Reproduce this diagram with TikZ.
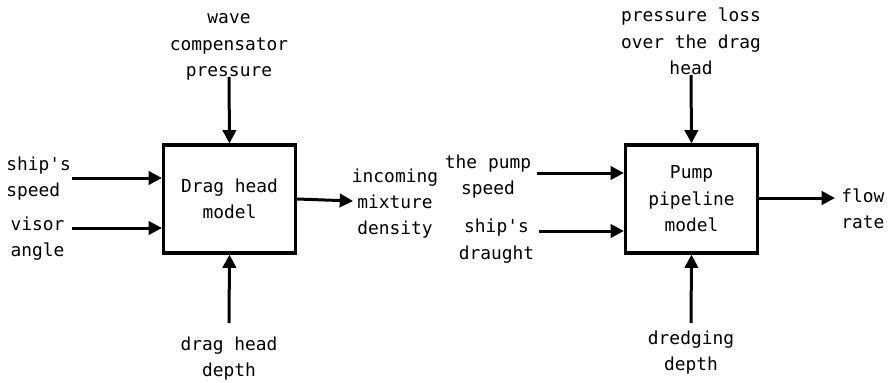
\documentclass[tikz,border=0pt]{standalone}
\usepackage{fontspec}
\setmonofont{DejaVu Sans Mono}
\usetikzlibrary{arrows.meta}
\begin{document}
\begin{tikzpicture}[x=0.75pt,y=-0.75pt,
  lbl/.style={font=\ttfamily\fontsize{13.4pt}{19.8pt}\selectfont, align=center, inner sep=0pt},
  block/.style={draw, line width=2.4pt, minimum width=99pt, minimum height=81pt, lbl},
  arr/.style={line width=2.25pt, -{Triangle[length=10pt,width=10pt]}}]
\useasboundingbox (0,0) rectangle (888,382);
% left block
\node[block] (dh) at (229.5,199) {Drag head\\model};
\node[lbl] (wcp) at (229,47) {wave\\compensator\\pressure};
\node[lbl,align=left,anchor=west] (ss) at (6,178.5) {ship's\\speed};
\node[lbl] (va) at (37.5,238.5) {visor\\angle};
\node[lbl] (dhd) at (229,358.5) {drag head\\depth};
\node[lbl] (imd) at (395,203.5) {incoming\\mixture\\density};
\coordinate (wcs) at (229,77);
\coordinate (sss) at (72,178);
\coordinate (vas) at (72,228);
\coordinate (dhs) at (229,323);
\coordinate (imt) at (353,201);
\draw[arr] (wcs) -- (dh.north);
\draw[arr] (sss) -- (sss -| dh.west);
\draw[arr] (vas) -- (vas -| dh.west);
\draw[arr] (dhs) -- (dh.south);
\draw[arr] (dh.east) -- (imt);
% right block
\node[block] (pp) at (691.5,199) {Pump\\pipeline\\model};
\node[lbl] (pl) at (691,41.5) {pressure loss\\over the drag\\head};
\node[lbl] (tps) at (488,176.5) {the pump\\speed};
\node[lbl] (sd) at (496.5,241) {ship's\\draught};
\node[lbl] (dd) at (691,352.5) {dredging\\depth};
\node[lbl,align=left,anchor=west] (fr) at (841,209) {flow\\rate};
\coordinate (pls) at (691,75);
\coordinate (tpss) at (537,173);
\coordinate (sds) at (539,231);
\coordinate (dds) at (691,323);
\coordinate (frt) at (835,198);
\draw[arr] (pls) -- (pp.north);
\draw[arr] (tpss) -- (tpss -| pp.west);
\draw[arr] (sds) -- (sds -| pp.west);
\draw[arr] (dds) -- (pp.south);
\draw[arr] (pp.east |- frt) -- (frt);
\end{tikzpicture}
\end{document}
